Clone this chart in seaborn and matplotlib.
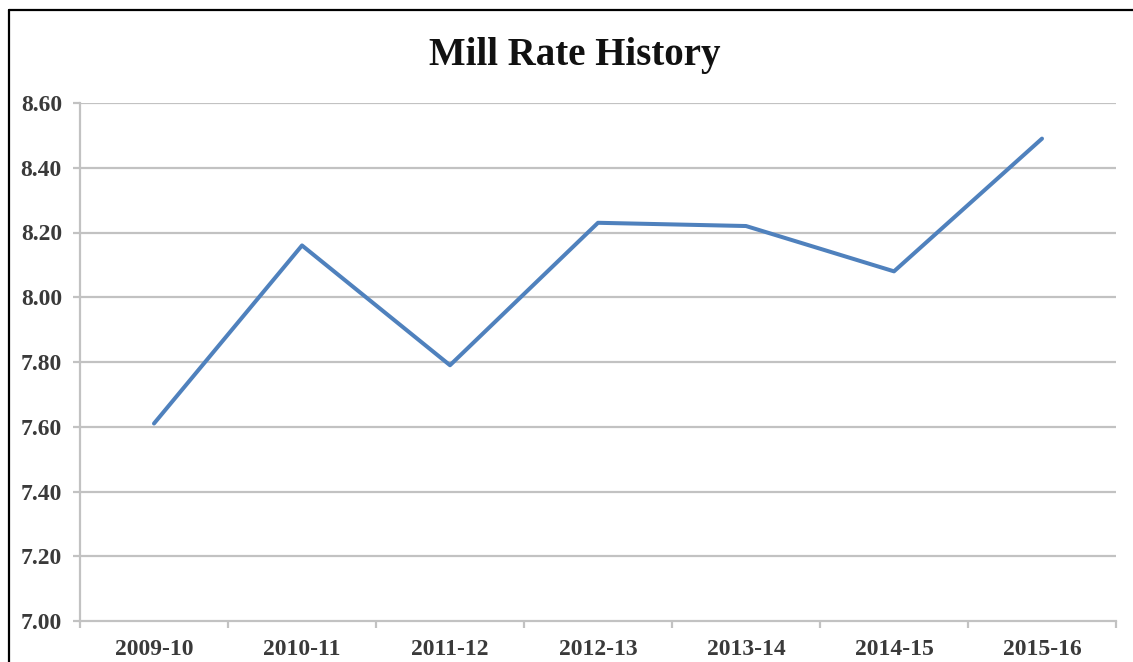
import matplotlib
matplotlib.use("Agg")
import matplotlib.pyplot as plt
import seaborn as sns
import pandas as pd
from matplotlib.lines import Line2D
from matplotlib.ticker import FixedLocator

years = ["2009-10", "2010-11", "2011-12", "2012-13", "2013-14", "2014-15", "2015-16"]
mill_rate = [7.61, 8.16, 7.79, 8.23, 8.22, 8.08, 8.49]
y_ticks = [7.00, 7.20, 7.40, 7.60, 7.80, 8.00, 8.20, 8.40, 8.60]

sns.set_theme(style="white")
plt.rcParams["font.family"] = ["Liberation Serif", "DejaVu Serif"]

df = pd.DataFrame({"Year": years, "Rate": mill_rate})

fig = plt.figure(figsize=(11.33, 6.62), dpi=100)
ax = fig.add_axes([80 / 1133, 1 - 621 / 662, (1116 - 80) / 1133, (621 - 103) / 662])

grid_col = "#c2c2c2"
for t in y_ticks[1:]:
    ax.axhline(t, color=grid_col, lw=1.6, zorder=1)

sns.lineplot(data=df, x="Year", y="Rate", color="#4f81bd", lw=2.9,
             solid_capstyle="round", ax=ax, zorder=3)

ax.set_xlim(-0.5, len(years) - 0.5)
ax.set_ylim(7.0, 8.6)
ax.set_yticks(y_ticks)
ax.set_yticklabels([f"{t:.2f}" for t in y_ticks])
ax.xaxis.set_minor_locator(FixedLocator([i - 0.5 for i in range(len(years) + 1)]))

ax.tick_params(axis="y", which="major", length=5, width=1.6, color=grid_col,
               pad=8, labelsize=17, labelcolor="#3a3a3a", left=True)
ax.tick_params(axis="x", which="major", length=0, pad=13, labelsize=17,
               labelcolor="#3a3a3a")
ax.tick_params(axis="x", which="minor", length=5, width=1.6, color=grid_col,
               bottom=True)

for lab in ax.get_xticklabels() + ax.get_yticklabels():
    lab.set_fontweight("bold")

for side in ["top", "right"]:
    ax.spines[side].set_visible(False)
for side in ["left", "bottom"]:
    ax.spines[side].set_color(grid_col)
    ax.spines[side].set_linewidth(1.6)

ax.set_xlabel("")
ax.set_ylabel("")

fig.text(575 / 1133, 1 - 55 / 662, "Mill Rate History", ha="center", va="center",
         fontsize=28, fontweight="bold", color="#111111")

# frame from the source document (left and top edges only)
x0 = 8.5 / 1133
y0 = 1 - 9.5 / 662
fig.add_artist(Line2D([x0, 1.0], [y0, y0], transform=fig.transFigure, color="black", lw=1.6))
fig.add_artist(Line2D([x0, x0], [0.0, y0], transform=fig.transFigure, color="black", lw=1.6))

fig.savefig("out.png", dpi=100)
